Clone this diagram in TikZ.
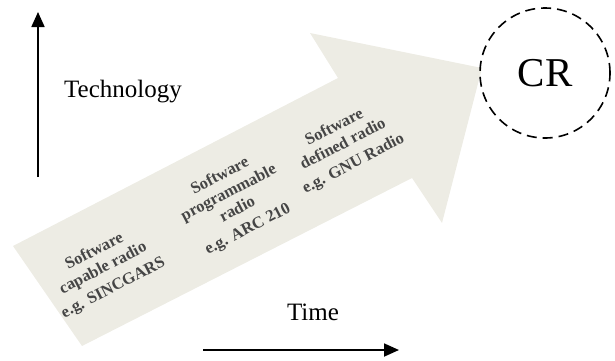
\documentclass[tikz,border=0pt]{standalone}
\usepackage{fontspec}
\setmainfont{Liberation Serif}
\usetikzlibrary{arrows.meta}
\definecolor{arrowfill}{HTML}{EDECE4}
\definecolor{labelgray}{HTML}{454545}
\tikzset{
  axis/.style={line width=1.8pt,-{Triangle[length=15pt,width=13pt]}},
  axislabel/.style={inner sep=0pt,font=\fontsize{25}{30}\selectfont},
  stage/.style={inner sep=0pt,align=center,rotate=27.5,text=labelgray,
    font=\bfseries\fontsize{16.5}{19}\selectfont},
  bigarrow/.style={fill=arrowfill,draw=none},
  crcircle/.style={circle,draw,dashed,dash pattern=on 10pt off 6pt,line width=1.6pt,minimum size=130pt,inner sep=0pt,font=\fontsize{41}{45}\selectfont}
}
\begin{document}
\begin{tikzpicture}[x=1pt,y=-1pt]
\useasboundingbox (0,0) rectangle (615,360);
% big arrow
\coordinate (t1) at (13,246);
\coordinate (c1) at (338,78);
\coordinate (b1) at (310,33);
\coordinate (tip) at (482,68);
\coordinate (b2) at (442,223);
\coordinate (c2) at (412,178);
\coordinate (t2) at (82,346);
\fill[bigarrow] (t1) -- (c1) -- (b1) -- (tip) -- (b2) -- (c2) -- (t2) -- cycle;
% stages
\node[stage] (s1) at (104,270) {Software\\capable radio\\[3pt]e.g. SINCGARS};
\node[stage] (s2) at (234,203) {Software\\programmable\\radio\\[3pt]e.g. ARC 210};
\node[stage] (s3) at (344,146) {Software\\defined radio\\[3pt]e.g. GNU Radio};
% CR circle
\node[crcircle] (cr) at (545,73) {CR};
% axes
\coordinate (vstart) at (38,177);
\coordinate (vend) at (38,12);
\draw[axis] (vstart) -- (vend);
\node[axislabel,anchor=base] (tech) at (123,97) {Technology};
\coordinate (hstart) at (203,350);
\coordinate (hend) at (399,350);
\draw[axis] (hstart) -- (hend);
\node[axislabel,anchor=base] (time) at (313,320) {Time};
\end{tikzpicture}
\end{document}
